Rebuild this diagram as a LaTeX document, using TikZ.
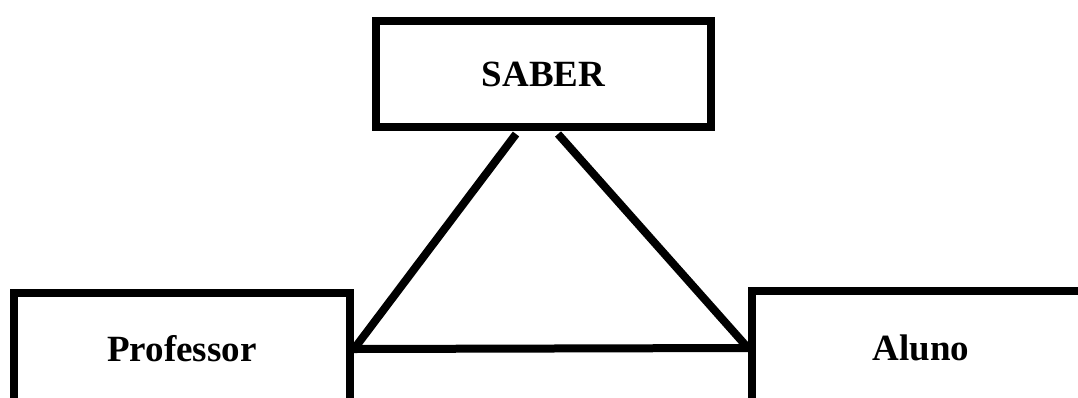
\documentclass[tikz,border=0pt]{standalone}
\usepackage{fontspec}
\setmainfont{Liberation Serif}
\begin{document}
\begin{tikzpicture}[x=1pt,y=-1pt,
  box/.style={draw=black,line width=8pt,fill=white,inner sep=0pt,
    font=\fontsize{37}{44}\selectfont\bfseries},
  conn/.style={draw=black,line width=8pt}]
\clip (0,0) rectangle (1078,397);
\fill[white] (0,0) rectangle (1078,397);
\node[box,minimum width=335pt,minimum height=106pt] (saber) at (543.5,74) {SABER};
\node[box,minimum width=336pt,minimum height=112pt] (prof) at (182,349) {Professor};
\node[box,minimum width=338pt,minimum height=114pt] (aluno) at (921,348) {Aluno};
\coordinate (sl) at (516,134);
\coordinate (sr) at (558,134);
\draw[conn] (sl) -- (prof.east);
\draw[conn] (sr) -- (aluno.west);
\draw[conn] (prof.east) -- (aluno.west);
\end{tikzpicture}
\end{document}
